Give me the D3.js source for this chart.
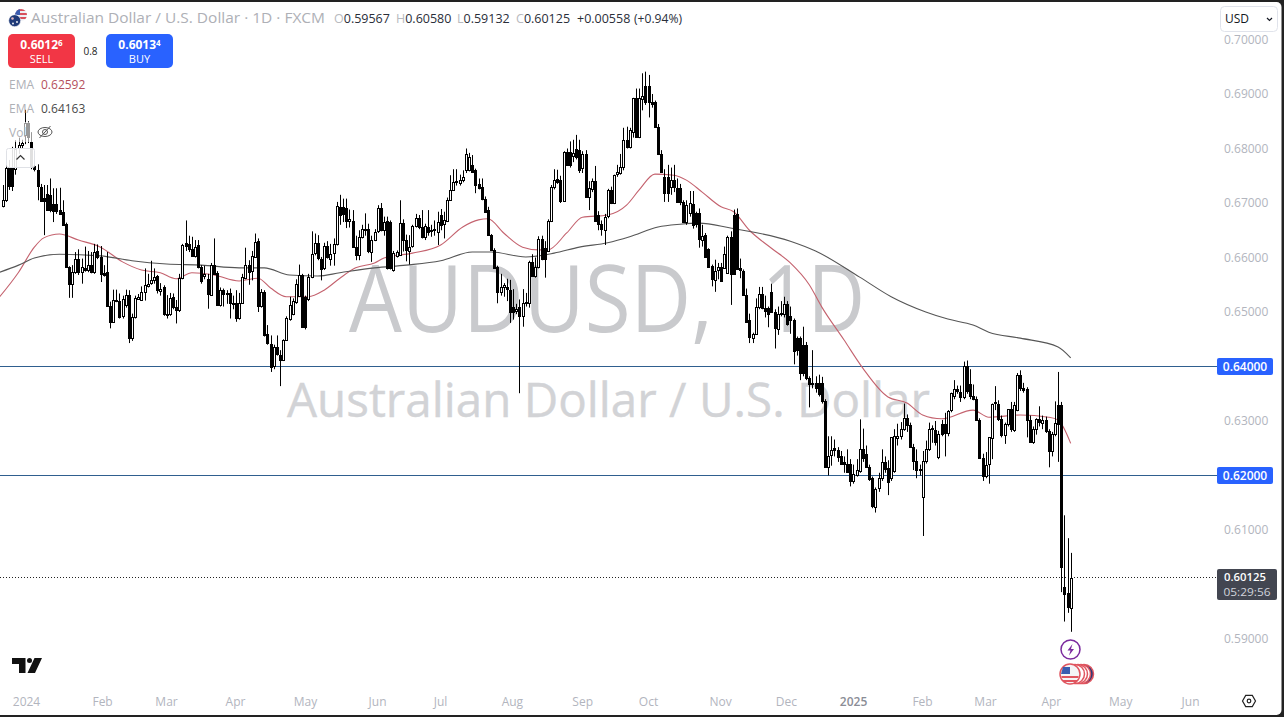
<!DOCTYPE html>
<html>
<head>
<meta charset="utf-8">
<script src="https://cdn.jsdelivr.net/npm/d3@7/dist/d3.min.js"></script>
<style>
  html, body { margin: 0; padding: 0; background: #fff; overflow: hidden; }
  text { font-family: "Open Sans", sans-serif; }
</style>
</head>
<body>
<svg id="chart" width="1284" height="717"></svg>
<script>
// daily bars, [open, high, low, close]
const dec23 = [[.6695,.6733,.6692,.6706],[.6706,.6779,.6702,.6764],[.6766,.6779,.6724,.6732],[.6766,.6803,.6722,.6732],[.6764,.6815,.6752,.6800],[.6800,.6820,.6790,.6806],[.6806,.6816,.6800,.6810]];
const jan24 = [[.6824,.6871,.6808,.6846],[.6846,.6850,.6810,.6820],[.6812,.6830,.6762,.6767],[.6767,.6775,.6758,.6761],[.6760,.6771,.6705,.6730],[.6730,.6735,.6705,.6705],[.6710,.6733,.6641,.6705],[.6717,.6733,.6687,.6687],[.6714,.6745,.6683,.6686],[.6699,.6727,.6665,.6687],[.6699,.6727,.6680,.6687],[.6688,.6728,.6680,.6680],[.6683,.6705,.6659,.6659],[.6661,.6664,.6583,.6583],[.6583,.6584,.6526,.6551],[.6552,.6586,.6526,.6574],[.6573,.6610,.6570,.6597],[.6597,.6615,.6568,.6573],[.6573,.6598,.6552,.6583],[.6580,.6620,.6574,.6577],[.6577,.6612,.6573,.6586],[.6586,.6610,.6571,.6574],[.6574,.6625,.6570,.6610],[.6612,.6624,.6597,.6601]];
const feb24 = [[.6601,.6621,.6555,.6570],[.6572,.6586,.6565,.6568],[.6573,.6610,.6510,.6511],[.6511,.6519,.6470,.6482],[.6482,.6541,.6481,.6522],[.6522,.6541,.6518,.6520],[.6520,.6534,.6488,.6491],[.6491,.6530,.6488,.6523],[.6512,.6541,.6508,.6531],[.6531,.6540,.6443,.6452],[.6452,.6497,.6447,.6491],[.6491,.6530,.6488,.6525],[.6525,.6533,.6522,.6528],[.6523,.6547,.6522,.6537],[.6537,.6580,.6521,.6549],[.6549,.6570,.6545,.6552],[.6552,.6594,.6550,.6558],[.6558,.6580,.6552,.6564],[.6566,.6568,.6534,.6540],[.6540,.6553,.6530,.6543],[.6545,.6549,.6493,.6496]];
const mar24 = [[.6497,.6531,.6488,.6496],[.6496,.6535,.6493,.6525],[.6527,.6534,.6505,.6509],[.6509,.6522,.6479,.6504],[.6504,.6570,.6500,.6563],[.6563,.6625,.6560,.6623],[.6626,.6668,.6612,.6620],[.6624,.6640,.6610,.6615],[.6616,.6638,.6602,.6604],[.6604,.6632,.6600,.6620],[.6623,.6632,.6580,.6583],[.6583,.6586,.6552,.6558],[.6567,.6585,.6560,.6570],[.6560,.6570,.6506,.6532],[.6532,.6590,.6530,.6587],[.6587,.6635,.6570,.6571],[.6571,.6575,.6512,.6513],[.6513,.6545,.6510,.6540],[.6540,.6543,.6510,.6533],[.6533,.6540,.6515,.6535],[.6534,.6543,.6488,.6516]];
const apr24 = [[.6517,.6530,.6505,.6516],[.6517,.6540,.6482,.6489],[.6489,.6535,.6486,.6517],[.6517,.6570,.6515,.6564],[.6564,.6618,.6560,.6587],[.6587,.6595,.6550,.6575],[.6575,.6612,.6558,.6602],[.6602,.6644,.6600,.6629],[.6631,.6635,.6500,.6511],[.6511,.6542,.6508,.6537],[.6537,.6540,.6455,.6459],[.6459,.6476,.6440,.6442],[.6442,.6457,.6390,.6400],[.6400,.6440,.6395,.6435],[.6435,.6457,.6420,.6422],[.6422,.6430,.6364,.6413],[.6413,.6450,.6410,.6449],[.6449,.6492,.6447,.6489],[.6486,.6528,.6484,.6512],[.6497,.6525,.6494,.6520],[.6519,.6560,.6515,.6552],[.6530,.6587,.6528,.6568],[.6568,.6570,.6472,.6473]];
const may24 = [[.6528,.6530,.6468,.6473],[.6523,.6570,.6520,.6564],[.6564,.6648,.6562,.6607],[.6607,.6644,.6604,.6626],[.6626,.6641,.6595,.6598],[.6598,.6601,.6558,.6580],[.6580,.6627,.6577,.6621],[.6621,.6630,.6598,.6600],[.6598,.6625,.6585,.6607],[.6607,.6635,.6585,.6624],[.6624,.6702,.6622,.6694],[.6692,.6715,.6660,.6678],[.6692,.6708,.6665,.6680],[.6690,.6708,.6654,.6667],[.6667,.6688,.6655,.6670],[.6667,.6687,.6620,.6620],[.6620,.6640,.6595,.6605],[.6605,.6650,.6595,.6638],[.6638,.6660,.6635,.6652],[.6652,.6681,.6640,.6650],[.6652,.6662,.6608,.6611],[.6611,.6640,.6592,.6633],[.6633,.6652,.6630,.6647]];
const jun24 = [[.6647,.6696,.6645,.6690],[.6690,.6700,.6648,.6650],[.6650,.6675,.6640,.6665],[.6667,.6675,.6578,.6580],[.6665,.6668,.6578,.6580],[.6578,.6612,.6574,.6609],[.6603,.6613,.6600,.6610],[.6605,.6705,.6603,.6664],[.6664,.6670,.6611,.6632],[.6632,.6642,.6593,.6614],[.6612,.6641,.6587,.6620],[.6620,.6660,.6618,.6657],[.6657,.6680,.6655,.6672],[.6672,.6678,.6652,.6656],[.6656,.6687,.6635,.6638],[.6638,.6662,.6632,.6658],[.6656,.6687,.6640,.6647],[.6648,.6660,.6638,.6650],[.6650,.6668,.6640,.6652],[.6647,.6684,.6623,.6666]];
const jul24 = [[.6678,.6689,.6650,.6660],[.6660,.6684,.6635,.6668],[.6668,.6710,.6665,.6706],[.6706,.6751,.6704,.6724],[.6724,.6762,.6722,.6739],[.6738,.6762,.6732,.6740],[.6737,.6752,.6732,.6742],[.6742,.6760,.6738,.6748],[.6761,.6800,.6755,.6790],[.6762,.6792,.6758,.6785],[.6770,.6788,.6755,.6758],[.6760,.6763,.6718,.6733],[.6735,.6745,.6725,.6728],[.6729,.6745,.6705,.6707],[.6707,.6712,.6682,.6684],[.6687,.6693,.6640,.6641],[.6641,.6643,.6614,.6614],[.6614,.6617,.6580,.6581],[.6583,.6585,.6516,.6537],[.6537,.6570,.6530,.6546],[.6546,.6553,.6528,.6550],[.6545,.6561,.6520,.6541],[.6541,.6559,.6480,.6501]];
const aug24 = [[.6510,.6542,.6486,.6501],[.6502,.6515,.6496,.6506],[.6510,.6523,.6351,.6494],[.6494,.6542,.6473,.6517],[.6517,.6535,.6510,.6518],[.6517,.6594,.6508,.6592],[.6592,.6606,.6565,.6567],[.6567,.6600,.6563,.6583],[.6583,.6639,.6580,.6634],[.6634,.6640,.6595,.6597],[.6618,.6630,.6563,.6597],[.6612,.6670,.6610,.6667],[.6667,.6733,.6665,.6729],[.6729,.6762,.6725,.6742],[.6744,.6761,.6735,.6739],[.6742,.6750,.6700,.6703],[.6704,.6795,.6702,.6794],[.6794,.6800,.6768,.6770],[.6794,.6813,.6765,.6771],[.6785,.6816,.6775,.6791],[.6799,.6825,.6780,.6785],[.6798,.6816,.6755,.6762]];
const sep24 = [[.6764,.6795,.6755,.6790],[.6790,.6797,.6710,.6711],[.6711,.6740,.6687,.6727],[.6725,.6745,.6720,.6740],[.6741,.6768,.6667,.6668],[.6678,.6685,.6650,.6662],[.6661,.6668,.6640,.6652],[.6652,.6680,.6623,.6675],[.6675,.6726,.6672,.6723],[.6723,.6730,.6698,.6700],[.6700,.6752,.6698,.6751],[.6752,.6770,.6748,.6756],[.6755,.6790,.6752,.6766],[.6766,.6838,.6760,.6815],[.6815,.6840,.6800,.6803],[.6803,.6838,.6800,.6834],[.6830,.6893,.6820,.6892],[.6892,.6910,.6820,.6821],[.6821,.6910,.6819,.6893],[.6890,.6938,.6870,.6896],[.6914,.6941,.6880,.6884]];
const oct24 = [[.6914,.6935,.6857,.6884],[.6886,.6900,.6875,.6882],[.6885,.6888,.6838,.6840],[.6840,.6845,.6788,.6790],[.6790,.6797,.6755,.6757],[.6747,.6762,.6702,.6718],[.6747,.6770,.6702,.6718],[.6730,.6765,.6715,.6743],[.6742,.6770,.6720,.6730],[.6727,.6745,.6700,.6702],[.6727,.6735,.6696,.6702],[.6702,.6705,.6664,.6665],[.6665,.6705,.6660,.6697],[.6681,.6722,.6675,.6700],[.6698,.6722,.6653,.6659],[.6681,.6684,.6655,.6660],[.6681,.6690,.6618,.6633],[.6633,.6660,.6620,.6640],[.6641,.6645,.6601,.6601],[.6615,.6617,.6582,.6582],[.6584,.6587,.6547,.6560],[.6560,.6596,.6537,.6576],[.6576,.6590,.6560,.6582]];
const nov24 = [[.6582,.6590,.6555,.6557],[.6582,.6620,.6580,.6607],[.6572,.6640,.6570,.6638],[.6638,.6648,.6513,.6570],[.6678,.6688,.6570,.6570],[.6680,.6690,.6580,.6580],[.6580,.6598,.6562,.6576],[.6575,.6578,.6530,.6531],[.6531,.6543,.6482,.6482],[.6485,.6497,.6443,.6453],[.6453,.6462,.6443,.6460],[.6460,.6525,.6458,.6510],[.6510,.6546,.6505,.6533],[.6533,.6546,.6505,.6507],[.6508,.6530,.6490,.6502],[.6508,.6510,.6472,.6497],[.6537,.6552,.6500,.6500],[.6500,.6505,.6433,.6470],[.6470,.6510,.6458,.6497],[.6497,.6520,.6492,.6499],[.6497,.6528,.6490,.6515]];
const dec24 = [[.6515,.6520,.6475,.6479],[.6492,.6510,.6460,.6484],[.6486,.6488,.6404,.6430],[.6452,.6455,.6420,.6430],[.6452,.6455,.6375,.6388],[.6439,.6473,.6382,.6388],[.6439,.6445,.6375,.6378],[.6378,.6382,.6325,.6367],[.6367,.6430,.6360,.6369],[.6369,.6382,.6352,.6360],[.6370,.6385,.6345,.6350],[.6370,.6381,.6332,.6337],[.6337,.6340,.6215,.6216],[.6216,.6272,.6200,.6236],[.6236,.6272,.6218,.6246],[.6250,.6266,.6235,.6247],[.6247,.6252,.6225,.6235],[.6235,.6245,.6220,.6220],[.6225,.6235,.6205,.6222],[.6222,.6248,.6205,.6208],[.6222,.6230,.6180,.6190]];
const jan25 = [[.6190,.6220,.6185,.6202],[.6202,.6230,.6198,.6211],[.6208,.6303,.6205,.6248],[.6248,.6286,.6225,.6232],[.6240,.6255,.6215,.6216],[.6216,.6220,.6190,.6194],[.6195,.6198,.6140,.6143],[.6143,.6178,.6132,.6176],[.6176,.6205,.6170,.6195],[.6195,.6248,.6190,.6225],[.6225,.6235,.6205,.6213],[.6213,.6228,.6164,.6188],[.6195,.6270,.6190,.6270],[.6208,.6285,.6205,.6272],[.6270,.6295,.6255,.6273],[.6272,.6298,.6266,.6285],[.6285,.6332,.6282,.6305],[.6305,.6312,.6280,.6293],[.6293,.6297,.6252,.6253],[.6253,.6258,.6210,.6227],[.6227,.6248,.6195,.6210],[.6210,.6220,.6200,.6212]];
const feb25 = [[.6160,.6245,.6089,.6226],[.6226,.6264,.6222,.6248],[.6248,.6297,.6245,.6285],[.6285,.6292,.6260,.6287],[.6284,.6300,.6255,.6262],[.6235,.6282,.6230,.6277],[.6295,.6302,.6272,.6277],[.6295,.6315,.6235,.6279],[.6279,.6320,.6272,.6319],[.6319,.6352,.6316,.6351],[.6345,.6375,.6340,.6358],[.6358,.6365,.6350,.6354],[.6354,.6365,.6335,.6344],[.6344,.6409,.6340,.6401],[.6401,.6411,.6350,.6356],[.6367,.6395,.6340,.6345],[.6345,.6367,.6338,.6340],[.6340,.6345,.6300,.6302],[.6302,.6305,.6232,.6233],[.6233,.6240,.6190,.6200]];
const mar25 = [[.6200,.6243,.6195,.6220],[.6220,.6270,.6185,.6270],[.6270,.6332,.6230,.6332],[.6332,.6364,.6320,.6334],[.6332,.6338,.6300,.6304],[.6304,.6310,.6270,.6274],[.6274,.6297,.6258,.6295],[.6295,.6320,.6290,.6322],[.6322,.6335,.6280,.6285],[.6285,.6335,.6280,.6330],[.6320,.6388,.6318,.6385],[.6385,.6393,.6355,.6361],[.6361,.6370,.6352,.6358],[.6358,.6362,.6270,.6302],[.6302,.6310,.6260,.6262],[.6262,.6290,.6258,.6285],[.6285,.6305,.6275,.6303],[.6303,.6327,.6290,.6297],[.6297,.6310,.6285,.6302],[.6302,.6308,.6278,.6281],[.6281,.6285,.6215,.6245]];
const apr25 = [[.6245,.6280,.6235,.6277],[.6277,.6336,.6272,.6297],[.6330,.6390,.6225,.6295],[.6330,.6335,.5986,.6032],[.5996,.6127,.5932,.5984],[.5984,.6085,.5948,.5958],[.59567,.6058,.59132,.60125]];

// moving averages, sampled along the line
const ema50Bars = [-1,5,10,13,18,24,31,38,44,50,55,60,67,75,81,85,90,97,102,107,112,118,121,130,139,146,151,154,159,165,170,173,179,184,192,198,202,207,213,217,222,228,232,237,244,250,256,260,267,273,281,287,292,298,308,313,323,332,335,339];
const ema50Values = [.6528,.6573,.6619,.6636,.6643,.6632,.6619,.6592,.6577,.6572,.6561,.6572,.6568,.6557,.6562,.6544,.6528,.6528,.6540,.6562,.6581,.6590,.6599,.6608,.6623,.6656,.6669,.6671,.6645,.6619,.6614,.6614,.6645,.6674,.6678,.6696,.6724,.6753,.6751,.6742,.6720,.6693,.6684,.6650,.6617,.6590,.6550,.6509,.6449,.6397,.6344,.6333,.6311,.6304,.6320,.6307,.6311,.6307,.6302,.6259];
const ema200Bars = [-1,5,10,18,31,41,52,63,75,83,91,100,107,118,128,139,149,155,166,175,183,192,199,208,215,221,231,250,258,272,282,293,300,308,313,323,335,339];
const ema200Values = [.6573,.6586,.6599,.6606,.6603,.6594,.6588,.6586,.6581,.6581,.6568,.6566,.6572,.6581,.6586,.6594,.6610,.6610,.6601,.6608,.6619,.6627,.6638,.6656,.6661,.6663,.6654,.6630,.6612,.6564,.6528,.6500,.6487,.6476,.6463,.6452,.6436,.6416];

// 0.60, 0.62 and 0.64 sit under the price tags in the picture
const priceTicks = [0.59, 0.61, 0.63, 0.65, 0.66, 0.67, 0.68, 0.69, 0.70];
const levelLines = [0.64, 0.62];
const lastPrice = 0.60125;
const timeLabels = ['2024','Feb','Mar','Apr','May','Jun','Jul','Aug','Sep','Oct','Nov','Dec','2025','Feb','Mar','Apr','May','Jun'];
const timeBars = [7.35,31.5,51.8,73.7,95.9,118.8,138.8,161.6,183.9,204.8,227.7,248.6,269.9,291.8,311.8,332.7,354.7,376.9];

const bars = [].concat(dec23, jan24, feb24, mar24, apr24, may24, jun24, jul24, aug24, sep24, oct24, nov24, dec24, jan25, feb25, mar25, apr25);

const x = d3.scaleLinear().domain([0, 339]).range([2.85, 1070.7]);
const y = d3.scaleLinear().domain([0.59, 0.64]).range([639, 366.5]);

const svg = d3.select('#chart');

// window frame
svg.append('rect').attr('width', 1284).attr('height', 717).attr('fill', '#222');
svg.append('rect').attr('x', -4).attr('y', 2).attr('width', 1285.5).attr('height', 713)
  .attr('rx', 5).attr('fill', '#fff');

const defs = svg.append('defs');
defs.append('clipPath').attr('id', 'pane').append('rect')
  .attr('x', 0).attr('y', 2).attr('width', 1217).attr('height', 685);
defs.append('clipPath').attr('id', 'usFlag').append('circle').attr('cx', 21).attr('cy', 15).attr('r', 6);

const pane = svg.append('g').attr('clip-path', 'url(#pane)');

// watermark
pane.append('text').attr('x', 349).attr('y', 332).attr('font-size', 94).attr('fill', '#c9cacd')
  .attr('textLength', 364).attr('lengthAdjust', 'spacingAndGlyphs').text('AUDUSD,');
pane.append('text').attr('x', 762).attr('y', 332).attr('font-size', 94).attr('fill', '#c9cacd')
  .attr('textLength', 103).attr('lengthAdjust', 'spacingAndGlyphs').text('1D');
pane.append('text').attr('x', 287).attr('y', 417).attr('font-size', 47).attr('fill', '#d2d3d6')
  .attr('stroke', '#d2d3d6').attr('stroke-width', 0.4)
  .attr('textLength', 643).attr('lengthAdjust', 'spacingAndGlyphs').text('Australian Dollar / U.S. Dollar');

// level lines
pane.selectAll('.level').data(levelLines).join('line').attr('class', 'level')
  .attr('x1', 0).attr('x2', 1217)
  .attr('y1', d => Math.floor(y(d)) + 0.5).attr('y2', d => Math.floor(y(d)) + 0.5)
  .attr('stroke', '#2f5f8f').attr('stroke-width', 1);

pane.append('line').attr('x1', 0).attr('x2', 1217)
  .attr('y1', Math.floor(y(lastPrice)) + 0.5).attr('y2', Math.floor(y(lastPrice)) + 0.5)
  .attr('stroke', '#222').attr('stroke-width', 1).attr('stroke-dasharray', '1 2');

// emas
const emaLine = d3.line().curve(d3.curveMonotoneX).x(d => x(d[0])).y(d => y(d[1]));
pane.append('path').attr('d', emaLine(ema50Bars.map((b, i) => [b, ema50Values[i]])))
  .attr('fill', 'none').attr('stroke', '#c4626e').attr('stroke-width', 1.1);
pane.append('path').attr('d', emaLine(ema200Bars.map((b, i) => [b, ema200Values[i]])))
  .attr('fill', 'none').attr('stroke', '#565656').attr('stroke-width', 1.1);

// candles
const candles = pane.append('g').selectAll('g').data(bars).join('g');
candles.append('line')
  .attr('x1', (d, i) => Math.round(x(i)) + 0.5).attr('x2', (d, i) => Math.round(x(i)) + 0.5)
  .attr('y1', d => y(d[1])).attr('y2', d => y(d[2]))
  .attr('stroke', '#000').attr('stroke-width', 1);
candles.append('rect')
  .attr('x', (d, i) => Math.round(x(i)) - 0.5)
  .attr('y', d => Math.round(y(Math.max(d[0], d[3]))) + 0.5)
  .attr('width', 2)
  .attr('height', d => Math.max(1, Math.round(Math.abs(y(d[0]) - y(d[3])))))
  .attr('fill', d => d[3] >= d[0] ? '#fff' : '#000')
  .attr('stroke', '#000').attr('stroke-width', 1);

// price axis
const yAxis = svg.append('g').attr('transform', 'translate(1224,0)')
  .call(d3.axisRight(y).tickValues(priceTicks).tickSize(0).tickPadding(0).tickFormat(d3.format('.5f')));
yAxis.select('.domain').remove();
yAxis.selectAll('text').attr('fill', '#b2b5be').attr('font-size', 12).attr('font-family', '"Open Sans", sans-serif');

// time axis
const xAxis = svg.append('g').attr('transform', 'translate(0,697)')
  .call(d3.axisBottom(x).tickValues(timeBars).tickSize(0).tickPadding(0).tickFormat((d, i) => timeLabels[i]));
xAxis.select('.domain').remove();
xAxis.selectAll('text').attr('fill', '#b2b5be').attr('font-size', 12).attr('font-family', '"Open Sans", sans-serif');
xAxis.selectAll('text').filter((d, i) => i == 12).attr('fill', '#8a8d96').attr('font-weight', 600);

// level tags
const tags = svg.selectAll('.tag').data(levelLines).join('g').attr('class', 'tag');
tags.append('rect').attr('x', 1217).attr('width', 56).attr('height', 17).attr('rx', 2)
  .attr('y', d => y(d) - 8.5).attr('fill', '#2962ff');
tags.append('text').attr('x', 1245).attr('y', d => y(d) + 4.5).attr('text-anchor', 'middle')
  .attr('fill', '#fff').attr('font-size', 12).attr('font-weight', 600).text(d => d3.format('.5f')(d));

// last price tag
svg.append('rect').attr('x', 1217).attr('y', 569).attr('width', 60).attr('height', 31).attr('rx', 2).attr('fill', '#434651');
svg.append('text').attr('x', 1245).attr('y', 581).attr('text-anchor', 'middle').attr('fill', '#fff')
  .attr('font-size', 11).attr('font-weight', 600).attr('textLength', 42).attr('lengthAdjust', 'spacingAndGlyphs').text(d3.format('.5f')(lastPrice));
svg.append('text').attr('x', 1247).attr('y', 596).attr('text-anchor', 'middle').attr('fill', '#d1d4dc')
  .attr('font-size', 11).attr('textLength', 47).attr('lengthAdjust', 'spacingAndGlyphs').text('05:29:56');

// currency box
svg.append('rect').attr('x', 1220.5).attr('y', 6.5).attr('width', 57).attr('height', 25).attr('rx', 4)
  .attr('fill', '#fff').attr('stroke', '#e0e3eb');
svg.append('text').attr('x', 1225).attr('y', 23).attr('font-size', 12).attr('fill', '#131722').text('USD');
svg.append('path').attr('d', 'M1267 18l2.5 2.5l2.5 -2.5').attr('fill', 'none').attr('stroke', '#131722').attr('stroke-width', 1.2);

// header flag
const usFlag = svg.append('g').attr('clip-path', 'url(#usFlag)');
usFlag.append('rect').attr('x', 15).attr('y', 9).attr('width', 12).attr('height', 12).attr('fill', '#eef0f5');
usFlag.append('rect').attr('x', 15).attr('y', 9).attr('width', 12).attr('height', 2).attr('fill', '#d8505c');
usFlag.append('rect').attr('x', 15).attr('y', 13).attr('width', 12).attr('height', 2).attr('fill', '#d8505c');
usFlag.append('rect').attr('x', 15).attr('y', 17).attr('width', 12).attr('height', 2).attr('fill', '#d8505c');
usFlag.append('rect').attr('x', 15).attr('y', 9).attr('width', 5).attr('height', 6).attr('fill', '#3a5cb0');
svg.append('circle').attr('cx', 14.7).attr('cy', 20.7).attr('r', 6).attr('fill', '#1f3a78').attr('stroke', '#fff').attr('stroke-width', 0.6);
svg.append('circle').attr('cx', 12.5).attr('cy', 18.5).attr('r', 1.3).attr('fill', '#e8b8c0');
svg.append('circle').attr('cx', 17).attr('cy', 22).attr('r', 0.9).attr('fill', '#fff');
svg.append('circle').attr('cx', 13).attr('cy', 23.5).attr('r', 0.9).attr('fill', '#fff');

svg.append('text').attr('x', 31).attr('y', 23).attr('font-size', 14).attr('fill', '#aeb0b6')
  .attr('textLength', 294).attr('lengthAdjust', 'spacingAndGlyphs').text('Australian Dollar / U.S. Dollar · 1D · FXCM');

const ohlcLabels = ['O', 'H', 'L', 'C'];
const ohlcValues = ['0.59567', '0.60580', '0.59132', '0.60125'];
const ohlcX = [334, 396, 457, 516];
ohlcLabels.forEach((l, i) => {
  const t = svg.append('text').attr('x', ohlcX[i]).attr('y', 23).attr('font-size', 12.5);
  t.append('tspan').attr('fill', '#b8bac0').text(l);
  t.append('tspan').attr('fill', '#2a2e39').text(ohlcValues[i]);
});
svg.append('text').attr('x', 577).attr('y', 23).attr('font-size', 12.5).attr('fill', '#2a2e39').text('+0.00558');
svg.append('text').attr('x', 634).attr('y', 23).attr('font-size', 12.5).attr('fill', '#2a2e39').attr('textLength', 48).attr('lengthAdjust', 'spacingAndGlyphs').text('(+0.94%)');

// sell / buy
svg.append('rect').attr('x', 8).attr('y', 34).attr('width', 67).attr('height', 34).attr('rx', 5).attr('fill', '#f23645');
svg.append('rect').attr('x', 106).attr('y', 34).attr('width', 67).attr('height', 34).attr('rx', 5).attr('fill', '#2962ff');
const quote = [['0.6012', '6', 'SELL', 41.5], ['0.6013', '4', 'BUY', 139.5]];
quote.forEach(q => {
  const t = svg.append('text').attr('x', q[3]).attr('y', 49).attr('text-anchor', 'middle')
    .attr('fill', '#fff').attr('font-size', 12).attr('font-weight', 700);
  t.append('tspan').text(q[0]);
  t.append('tspan').attr('font-size', 8).attr('dy', -3).text(q[1]);
  svg.append('text').attr('x', q[3]).attr('y', 63).attr('text-anchor', 'middle')
    .attr('fill', '#fff').attr('font-size', 11).text(q[2]);
});
svg.append('text').attr('x', 90.5).attr('y', 55).attr('text-anchor', 'middle').attr('font-size', 10).attr('fill', '#222').text('0.8');

// indicator legend
svg.append('rect').attr('x', 6).attr('y', 122).attr('width', 52).attr('height', 20).attr('fill', '#fff').attr('opacity', 0.6);
svg.append('text').attr('x', 9).attr('y', 89).attr('font-size', 12).attr('fill', '#aeb0b6').text('EMA');
svg.append('text').attr('x', 41).attr('y', 89).attr('font-size', 12).attr('fill', '#b5505c').text('0.62592');
svg.append('text').attr('x', 9).attr('y', 113).attr('font-size', 12).attr('fill', '#aeb0b6').text('EMA');
svg.append('text').attr('x', 41).attr('y', 113).attr('font-size', 12).attr('fill', '#4a4a4a').text('0.64163');
svg.append('text').attr('x', 9).attr('y', 137).attr('font-size', 12).attr('fill', '#aeb0b6').text('Vol');
const eye = svg.append('g').attr('fill', 'none').attr('stroke', '#555').attr('stroke-width', 1);
eye.append('ellipse').attr('cx', 45).attr('cy', 132).attr('rx', 7).attr('ry', 4.5);
eye.append('circle').attr('cx', 45).attr('cy', 132).attr('r', 2.5);
eye.append('line').attr('x1', 39.5).attr('y1', 138).attr('x2', 50.5).attr('y2', 126);

// collapse button
svg.append('rect').attr('x', 6.5).attr('y', 148.5).attr('width', 28).attr('height', 19).attr('rx', 2)
  .attr('fill', '#fff').attr('fill-opacity', 0.88).attr('stroke', '#dfe1e6');
svg.append('path').attr('d', 'M16.5 159.5l4 -4l4 4').attr('fill', 'none').attr('stroke', '#333').attr('stroke-width', 1.2);

// tradingview logo
svg.append('path').attr('d', 'M12 658h13.5v15h-6.5v-9h-7z M42 658l-7 15h-7.5l7 -15z').attr('fill', '#111');
svg.append('circle').attr('cx', 29.5).attr('cy', 660.5).attr('r', 2.5).attr('fill', '#111');

// event markers
svg.append('circle').attr('cx', 1070.5).attr('cy', 649.5).attr('r', 9.5).attr('fill', '#fff').attr('stroke', '#7b2a9e').attr('stroke-width', 1.5);
svg.append('path').attr('d', 'M1072.5 644l-5 6.5h3l-1.5 5l5 -6.5h-3z').attr('fill', '#7b2a9e');
const rings = [1084, 1081, 1078, 1075];
rings.forEach((cx, i) => {
  svg.append('circle').attr('cx', cx).attr('cy', 674).attr('r', 9.5).attr('fill', i == 0 ? '#2b3a78' : '#fff').attr('stroke', '#e0555f').attr('stroke-width', 1.5);
});
svg.append('circle').attr('cx', 1070).attr('cy', 674).attr('r', 10).attr('fill', '#f4f4f6').attr('stroke', '#e0555f').attr('stroke-width', 1.5);
svg.append('path').attr('d', 'M1061.5 677h17M1063 681h14').attr('stroke', '#e0555f').attr('stroke-width', 2);
svg.append('path').attr('d', 'M1063 667h7v7h-9z').attr('fill', '#3a5cb0');

// settings hexagon
svg.append('path').attr('d', 'M1242.5 701l3.2 -5.6h6.6l3.2 5.6l-3.2 5.6h-6.6z').attr('fill', 'none').attr('stroke', '#222').attr('stroke-width', 1.2);
svg.append('circle').attr('cx', 1249).attr('cy', 701).attr('r', 1.8).attr('fill', 'none').attr('stroke', '#222').attr('stroke-width', 1.2);
</script>
</body>
</html>
